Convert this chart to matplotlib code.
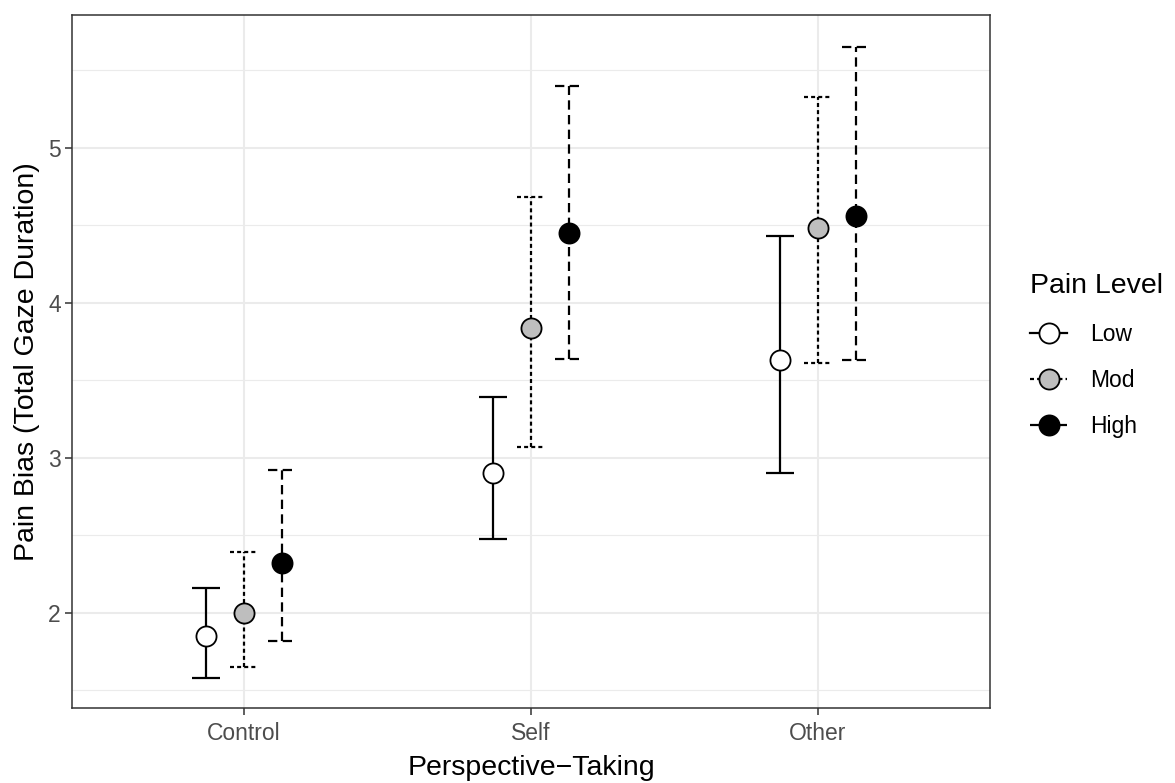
import numpy as np
import matplotlib.pyplot as plt

plt.rcParams['font.family'] = ['Liberation Sans', 'DejaVu Sans']

# data
conditions = ['Control', 'Self', 'Other']
levels = ['Low', 'Mod', 'High']

mean_low = [1.85, 2.90, 3.63]
lower_low = [1.58, 2.48, 2.90]
upper_low = [2.16, 3.39, 4.43]

mean_mod = [2.00, 3.84, 4.48]
lower_mod = [1.65, 3.07, 3.61]
upper_mod = [2.39, 4.68, 5.33]

mean_high = [2.32, 4.45, 4.56]
lower_high = [1.82, 3.64, 3.63]
upper_high = [2.92, 5.40, 5.65]

means = [mean_low, mean_mod, mean_high]
lowers = [lower_low, lower_mod, lower_high]
uppers = [upper_low, upper_mod, upper_high]

fills = ['white', '#BEBEBE', 'black']
lw = 1.6
styles = ['-', (0, (1.8, 1.4)), (0, (4.2, 2.4))]
offsets = [-0.1333, 0.0, 0.1333]
capw = 0.049

fig = plt.figure(figsize=(11.75, 7.83), dpi=100)
ax = fig.add_axes([0.0613, 0.0958, 0.7813, 0.8852])

x = np.arange(1, len(conditions) + 1)
handles = []
for i in range(3):
    xs = x + offsets[i]
    ax.vlines(xs, lowers[i], uppers[i], colors='black', linestyles=styles[i], lw=lw, zorder=3)
    ax.hlines(lowers[i], xs - capw, xs + capw, colors='black', linestyles=styles[i], lw=lw, zorder=3)
    ax.hlines(uppers[i], xs - capw, xs + capw, colors='black', linestyles=styles[i], lw=lw, zorder=3)
    ax.plot(xs, means[i], 'o', ms=14.5, mfc=fills[i], mec='black', mew=1.3, zorder=4)
    h, = ax.plot([], [], color='black', ls=styles[i], lw=lw, marker='o', ms=14.5,
                 mfc=fills[i], mec='black', mew=1.3)
    handles.append(h)

ax.set_xlim(0.4, 3.6)
ax.set_ylim(1.387, 5.858)
ax.set_xticks(x)
ax.set_xticklabels(conditions)
ax.set_yticks([2, 3, 4, 5])
ax.set_yticks([1.5, 2.5, 3.5, 4.5, 5.5], minor=True)
ax.grid(True, which='major', color='#EBEBEB', lw=1.5, zorder=0)
ax.grid(True, which='minor', axis='y', color='#EBEBEB', lw=0.8, zorder=0)
ax.set_axisbelow(True)
ax.tick_params(axis='both', which='major', colors='#333333', labelsize=16.5,
               length=5, width=1.1, pad=3, labelcolor='#4D4D4D')
ax.tick_params(axis='x', which='major', pad=5)
ax.tick_params(axis='y', which='minor', length=0)
for s in ax.spines.values():
    s.set_color('#333333')
    s.set_linewidth(1.1)

ax.set_xlabel('Perspective\u2212Taking', fontsize=20.5, labelpad=7)
ax.set_ylabel('Pain Bias (Total Gaze Duration)', fontsize=20.5, labelpad=6)

leg = fig.legend(handles, levels, loc='upper left', bbox_to_anchor=(0.877, 0.651),
                 title='Pain Level', frameon=False, fontsize=16.5, title_fontsize=20.5,
                 handlelength=1.6, handletextpad=1.0, labelspacing=1.0,
                 borderpad=0, borderaxespad=0)
leg._legend_box.align = 'left'
leg._legend_box.sep = 17

fig.savefig('out.png', dpi=100)
